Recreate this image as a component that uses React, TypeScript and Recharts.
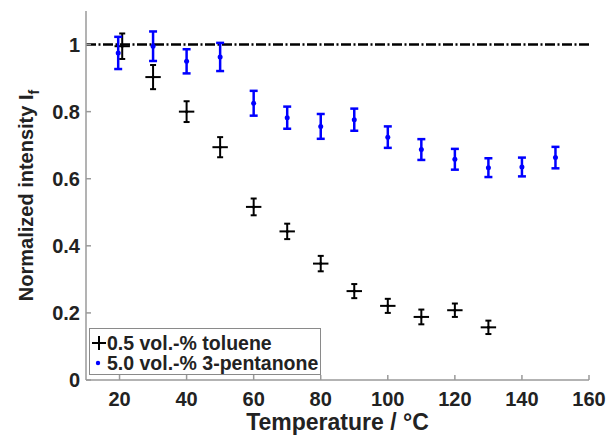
import React from "react";
import {
  ScatterChart,
  Scatter,
  XAxis,
  YAxis,
  ErrorBar,
  ReferenceLine,
  Legend
} from "recharts";

const FONT = "'Liberation Sans', Arial, sans-serif";

// toluene (black crosses)
const tolueneTemp = [20.8, 30, 40, 50, 60, 70, 80, 90, 100, 110, 120, 130];
const tolueneI = [0.995, 0.903, 0.8, 0.694, 0.516, 0.443, 0.347, 0.265, 0.221, 0.188, 0.208, 0.157];
const tolueneErrI = [0.038, 0.036, 0.031, 0.03, 0.025, 0.023, 0.023, 0.021, 0.021, 0.022, 0.02, 0.02];
const tolueneErrT = [2.3, 2.3, 2.3, 2.3, 2.3, 2.3, 2.3, 2.3, 2.3, 2.3, 2.3, 2.3];

// 3-pentanone (blue dots)
const pentanoneTemp = [19.6, 30, 40, 50, 60, 70, 80, 90, 100, 110, 120, 130, 140, 150];
const pentanoneI = [0.975, 0.995, 0.95, 0.963, 0.825, 0.782, 0.756, 0.776, 0.724, 0.687, 0.658, 0.633, 0.635, 0.663];
const pentanoneErrI = [0.048, 0.044, 0.036, 0.042, 0.037, 0.033, 0.037, 0.033, 0.032, 0.031, 0.031, 0.028, 0.028, 0.032];

const xTicks = [20, 40, 60, 80, 100, 120, 140, 160];
const yTicks = [0, 0.2, 0.4, 0.6, 0.8, 1];

const tolueneData = tolueneTemp.map((t, i) => ({
  t,
  v: tolueneI[i],
  ey: tolueneErrI[i],
  ex: tolueneErrT[i]
}));

const pentanoneData = pentanoneTemp.map((t, i) => ({
  t,
  v: pentanoneI[i],
  ey: pentanoneErrI[i]
}));

const axisStroke = { stroke: "#9a9a9a", strokeWidth: 1.5 };
const tickStyle = { fill: "#222", fontSize: 20, fontWeight: "bold", fontFamily: FONT };

function BlueDot(props: any) {
  return <circle cx={props.cx} cy={props.cy} r={2.5} fill="#0000ff" />;
}

function BlackDot(props: any) {
  return <circle cx={props.cx} cy={props.cy} r={1.5} fill="#000" />;
}

function YTitle(props: any) {
  const vb = props.viewBox || { x: 26, y: 11, width: 60, height: 369 };
  const x = 33;
  const y = vb.y + vb.height / 2;
  return (
    <text
      x={x}
      y={y}
      transform={`rotate(-90, ${x}, ${y})`}
      textAnchor="middle"
      fontFamily={FONT}
      fontWeight="bold"
      fontSize={20}
      fill="#222"
    >
      Normalized intensity I
      <tspan dy={6} fontSize={14}>f</tspan>
    </text>
  );
}

function XTitle(props: any) {
  const vb = props.viewBox || { x: 86, y: 380, width: 503, height: 40 };
  return (
    <text
      x={vb.x + vb.width / 2}
      y={430}
      textAnchor="middle"
      fontFamily={FONT}
      fontWeight="bold"
      fontSize={23}
      fill="#222"
    >
      Temperature / °C
    </text>
  );
}

function LegendBox() {
  const row: React.CSSProperties = {
    position: "absolute",
    left: 0,
    height: 20,
    display: "flex",
    alignItems: "center",
    whiteSpace: "nowrap"
  };
  return (
    <div
      style={{
        position: "relative",
        width: 232,
        height: 47,
        boxSizing: "border-box",
        border: "1.5px solid #8a8a8a",
        background: "#fff",
        fontFamily: FONT,
        fontWeight: "bold",
        fontSize: 19.5,
        color: "#222",
        lineHeight: "20px"
      }}
    >
      <div style={{ ...row, top: 4 }}>
        <svg width={17} height={20}>
          <line x1={2} y1={10} x2={16} y2={10} stroke="#000" strokeWidth={2} />
          <line x1={9} y1={3} x2={9} y2={17} stroke="#000" strokeWidth={2} />
        </svg>
        <span>0.5 vol.-% toluene</span>
      </div>
      <div style={{ ...row, top: 24 }}>
        <svg width={17} height={20}>
          <circle cx={8} cy={10} r={2.2} fill="#0000ff" />
        </svg>
        <span>5.0 vol.-% 3-pentanone</span>
      </div>
    </div>
  );
}

export default function App() {
  return (
    <div style={{ position: "absolute", left: 0, top: 0, background: "#fff" }}>
      <ScatterChart
        width={608}
        height={436}
        margin={{ top: 11, right: 19, bottom: 16, left: 26 }}
      >
        <XAxis
          xAxisId="b"
          dataKey="t"
          type="number"
          domain={[10, 160]}
          ticks={xTicks}
          interval={0}
          allowDataOverflow
          height={40}
          tickSize={-5}
          tickMargin={17}
          axisLine={axisStroke}
          tickLine={axisStroke}
          tick={tickStyle}
          label={<XTitle />}
        />
        <XAxis
          xAxisId="t"
          orientation="top"
          dataKey="t"
          type="number"
          domain={[10, 160]}
          ticks={xTicks}
          interval={0}
          allowDataOverflow
          height={0}
          tickSize={-5}
          axisLine={axisStroke}
          tickLine={axisStroke}
          tick={false}
        />
        <YAxis
          yAxisId="l"
          dataKey="v"
          type="number"
          domain={[0, 1.1]}
          ticks={yTicks}
          interval={0}
          allowDataOverflow
          width={60}
          tickSize={-5}
          tickMargin={11}
          axisLine={axisStroke}
          tickLine={axisStroke}
          tick={tickStyle}
          tickFormatter={(v: number) => String(v)}
          label={<YTitle />}
        />
        <YAxis
          yAxisId="r"
          orientation="right"
          dataKey="v"
          type="number"
          domain={[0, 1.1]}
          ticks={yTicks}
          interval={0}
          allowDataOverflow
          width={0}
          tickSize={-5}
          axisLine={axisStroke}
          tickLine={axisStroke}
          tick={false}
        />
        <ReferenceLine
          xAxisId="b"
          yAxisId="l"
          y={1}
          stroke="#000"
          strokeWidth={2.5}
          strokeDasharray="10 2.5 2 2.5"
        />
        <Scatter
          name="0.5 vol.-% toluene"
          xAxisId="b"
          yAxisId="l"
          data={tolueneData}
          shape={<BlackDot />}
          isAnimationActive={false}
        >
          <ErrorBar dataKey="ey" direction="y" width={3} stroke="#000" strokeWidth={2} isAnimationActive={false} />
          <ErrorBar dataKey="ex" direction="x" width={0} stroke="#000" strokeWidth={2} isAnimationActive={false} />
        </Scatter>
        <Scatter
          name="5.0 vol.-% 3-pentanone"
          xAxisId="b"
          yAxisId="l"
          data={pentanoneData}
          shape={<BlueDot />}
          isAnimationActive={false}
        >
          <ErrorBar dataKey="ey" direction="y" width={4} stroke="#0000ff" strokeWidth={2.5} isAnimationActive={false} />
        </Scatter>
        <Legend
          layout="horizontal"
          align="center"
          verticalAlign="middle"
          content={<LegendBox />}
          wrapperStyle={{ left: 89, top: 328, width: 232, height: 47 }}
        />
      </ScatterChart>
    </div>
  );
}
